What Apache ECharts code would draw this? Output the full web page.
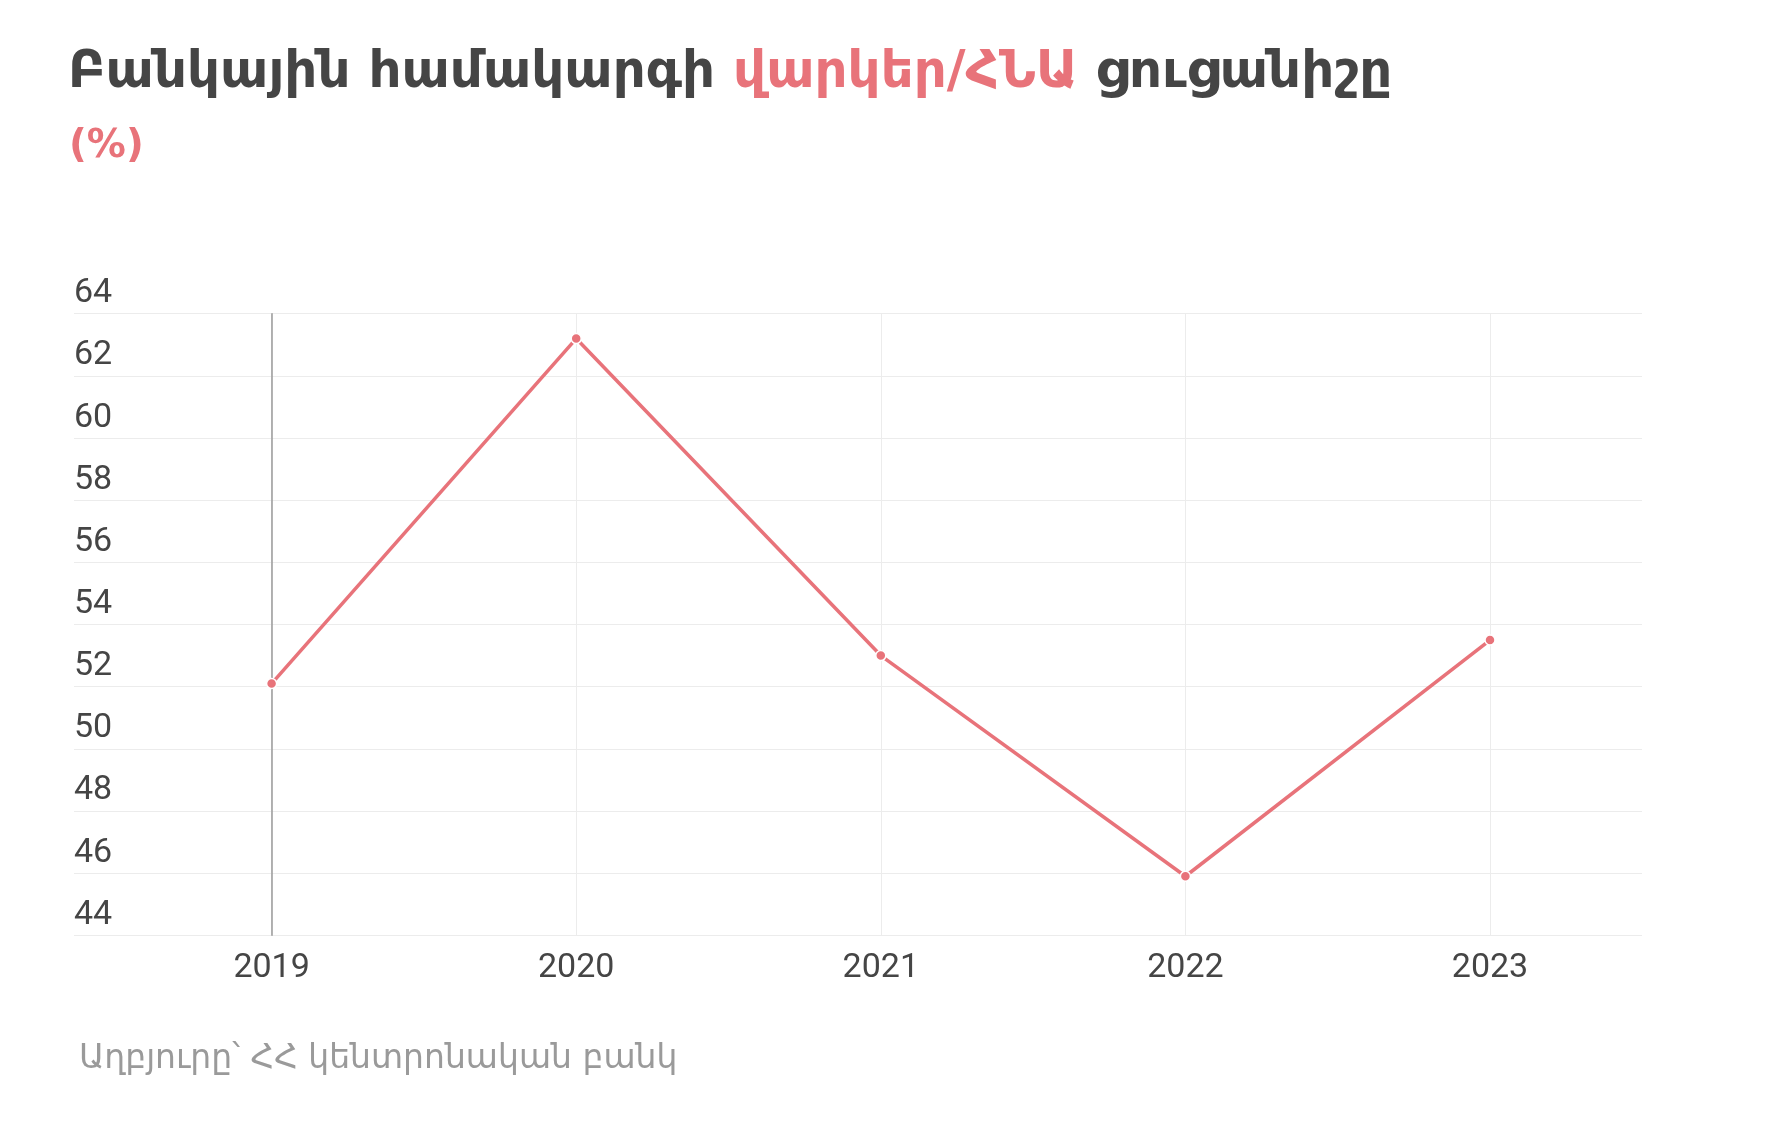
<!DOCTYPE html>
<html>
<head>
<meta charset="utf-8">
<script src="https://cdn.jsdelivr.net/npm/echarts@6/dist/echarts.min.js"></script>
<style>
html,body{margin:0;padding:0;background:#fff;}
#chart{width:1782px;height:1144px;}
</style>
</head>
<body>
<div id="chart"></div>
<script>
const years = ['2019', '2020', '2021', '2022', '2023'];
const loanToGdp = [52.1, 63.2, 53.0, 45.9, 53.5];
const yMin = 44;
const yMax = 64;
const yStep = 2;
const titleParts = ['Բանկային համակարգի ', 'վարկեր/ՀՆԱ', ' ցուցանիշը'];
const unitText = '(%)';
const sourceText = 'Աղբյուրը՝ ՀՀ կենտրոնական բանկ';

const armFont = '"DejaVu Sans", sans-serif';
const numFont = '"Roboto", sans-serif';
const dark = '#454545';
const pink = '#E8737A';

const chart = echarts.init(document.getElementById('chart'), null, {renderer: 'canvas'});
chart.setOption({
  backgroundColor: '#fff',
  animation: false,
  title: [
    {
      left: 63, top: 43,
      text: '{a|' + titleParts[0] + '}{b|' + titleParts[1] + '}{a|' + titleParts[2] + '}',
      textStyle: {
        rich: {
          a: {fontFamily: armFont, fontWeight: 'bold', fontSize: 51.5, color: dark},
          b: {fontFamily: armFont, fontWeight: 'bold', fontSize: 51.5, color: pink}
        }
      }
    },
    {
      left: 64, top: 122,
      text: unitText,
      textStyle: {fontFamily: armFont, fontWeight: 'bold', fontSize: 39, color: pink}
    },
    {
      left: 74, top: 1038,
      text: sourceText,
      textStyle: {fontFamily: armFont, fontWeight: 'normal', fontSize: 33, color: '#9a9a9a'}
    }
  ],
  grid: [
    {left: 74, right: 140, top: 313.7, bottom: 208.7},
    {left: 271.6, right: 292, top: 313.7, bottom: 208.7}
  ],
  xAxis: [
    {gridIndex: 0, type: 'value', show: false, min: 0, max: 1},
    {
      gridIndex: 1, type: 'category', data: years, boundaryGap: false,
      axisLine: {show: false}, axisTick: {show: false},
      axisLabel: {fontFamily: numFont, fontSize: 34, color: dark, margin: 16},
      splitLine: {show: true, lineStyle: {color: '#ececec', width: 1}}
    }
  ],
  yAxis: [
    {
      gridIndex: 0, type: 'value', min: yMin, max: yMax, interval: yStep,
      axisLine: {show: false}, axisTick: {show: false},
      axisLabel: {
        inside: true, margin: 0, align: 'left', verticalAlign: 'bottom',
        fontFamily: numFont, fontSize: 34, color: dark, padding: [0, 0, 3, 0]
      },
      splitLine: {show: true, lineStyle: {color: '#ececec', width: 1}}
    },
    {
      gridIndex: 1, type: 'value', min: yMin, max: yMax, interval: yStep,
      axisLine: {show: true, lineStyle: {color: '#9a9a9a', width: 1.5}},
      axisTick: {show: false}, axisLabel: {show: false}, splitLine: {show: false}
    }
  ],
  series: [
    {
      type: 'line', xAxisIndex: 1, yAxisIndex: 1, data: loanToGdp,
      lineStyle: {color: pink, width: 3.5},
      symbol: 'circle', symbolSize: 10,
      itemStyle: {color: pink, borderColor: '#fff', borderWidth: 1.5},
      z: 5
    }
  ]
});
</script>
</body>
</html>
